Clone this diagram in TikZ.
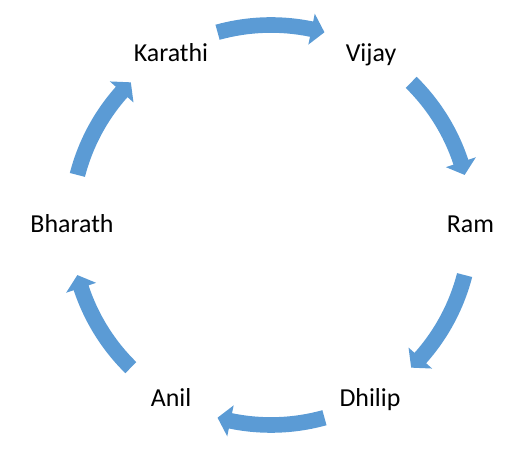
\documentclass[tikz,border=0pt]{standalone}
\usepackage{fontspec}
\setmainfont{Carlito}
\definecolor{arrowblue}{HTML}{5B9BD5}
\newcommand\cycarrow[1]{%
  \pgfmathsetmacro\aS{#1+15.5}%
  \pgfmathsetmacro\aE{#1-15.5}%
  \pgfmathsetmacro\aB{#1-15.5+3.8}%
  \fill[arrowblue,shift={(C)}] (\aS:207.8bp) arc[start angle=\aS,end angle=\aB,radius=207.8bp]
    -- (\aB:215.8bp) -- (\aE:200bp) -- (\aB:184.2bp) -- (\aB:192.2bp)
    arc[start angle=\aB,end angle=\aS,radius=192.2bp] -- cycle;}
\begin{document}
\begin{tikzpicture}[x=1bp,y=1bp,
  lbl/.style={font=\fontsize{26}{30}\selectfont, anchor=base, inner sep=0pt}]
\useasboundingbox (0,0) rectangle (513,465);
\coordinate (C) at (271,240);
\node[lbl] (karathi) at (171,403) {Karathi};
\node[lbl] (vijay) at (371,403) {Vijay};
\node[lbl] (ram) at (470.5,232) {Ram};
\node[lbl] (dhilip) at (370,58.5) {Dhilip};
\node[lbl] (anil) at (171,58.5) {Anil};
\node[lbl] (bharath) at (72,232) {Bharath};
\cycarrow{90}
\cycarrow{30}
\cycarrow{-30}
\cycarrow{-90}
\cycarrow{-150}
\cycarrow{150}
\end{tikzpicture}
\end{document}
